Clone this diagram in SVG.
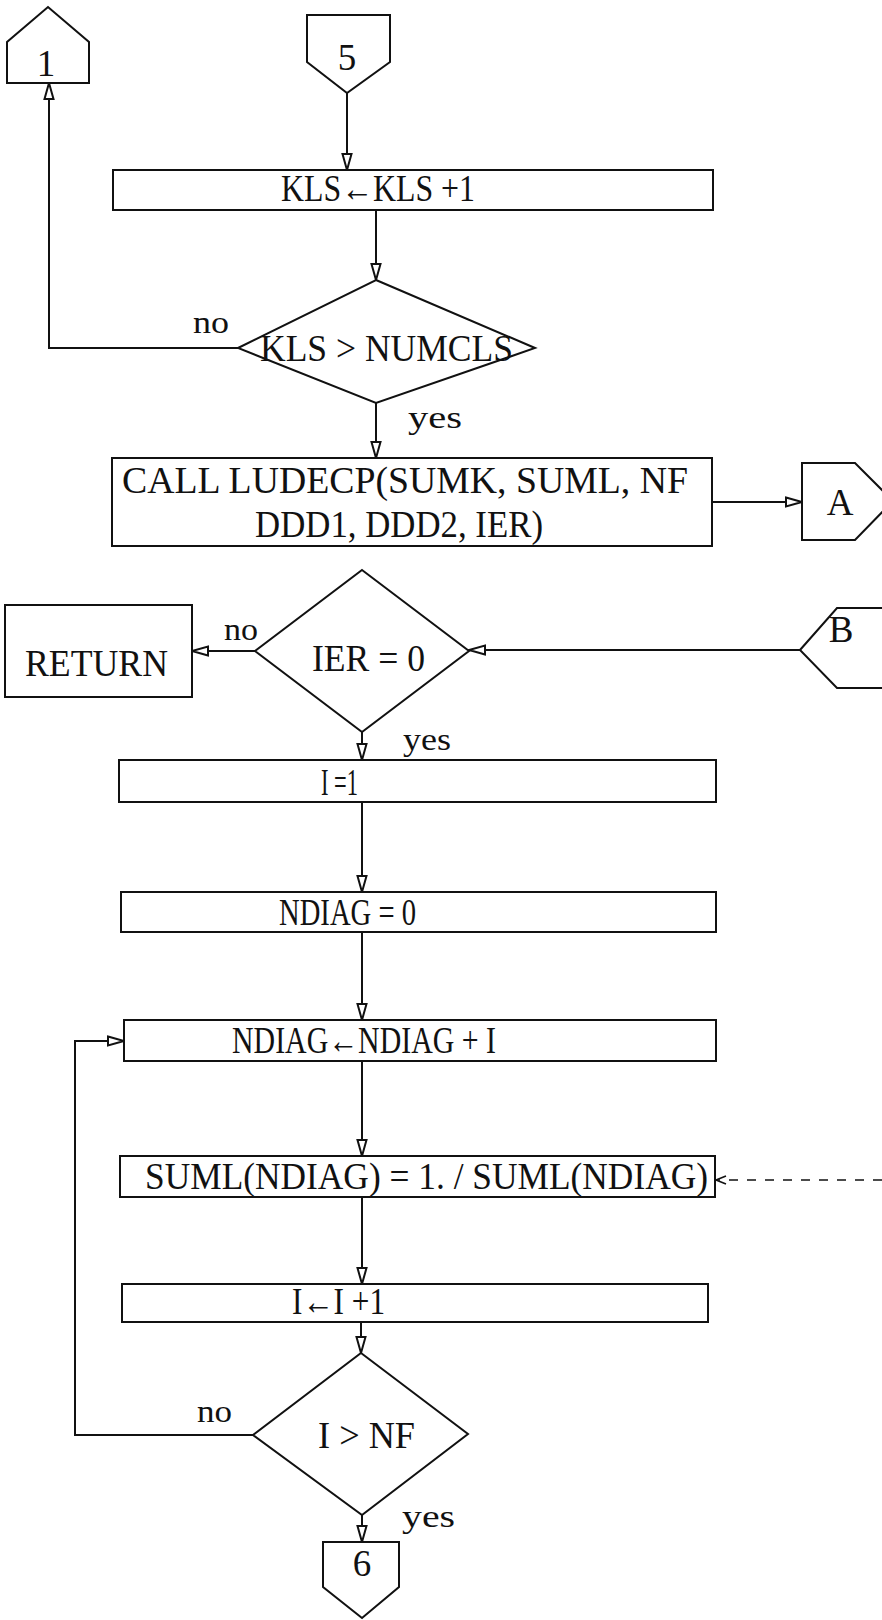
<svg xmlns="http://www.w3.org/2000/svg" width="882" height="1620" viewBox="0 0 882 1620">
<style>
.shape{fill:#fff;stroke:#111;stroke-width:2}
.line{fill:none;stroke:#111;stroke-width:2}
.dash{fill:none;stroke:#111;stroke-width:1.6;stroke-dasharray:9 9}
text{font-family:"Liberation Serif","Times New Roman",serif;font-size:37px;fill:#111}
.lbl{font-size:32px}
.mid{text-anchor:middle}
</style>
<defs>
<marker id="ah" markerUnits="userSpaceOnUse" markerWidth="18" markerHeight="12" viewBox="0 0 18 12" refX="17" refY="6" orient="auto">
<path d="M1,1.5 L17,6 L1,10.5 z" fill="#fff" stroke="#111" stroke-width="2"/>
</marker>
<marker id="ahs" markerUnits="userSpaceOnUse" markerWidth="12" markerHeight="10" viewBox="0 0 12 10" refX="11" refY="5" orient="auto">
<path d="M11,5 L1,1 M11,5 L1,9" fill="none" stroke="#111" stroke-width="1.6"/>
</marker>
</defs>
<g id="connectors">
<path class="line" d="M347,93 L347,170" marker-end="url(#ah)"/>
<path class="line" d="M376,210 L376,280" marker-end="url(#ah)"/>
<path class="line" d="M238,348 L49,348 L49,83" marker-end="url(#ah)"/>
<path class="line" d="M376,403 L376,458" marker-end="url(#ah)"/>
<path class="line" d="M712,502 L802,502" marker-end="url(#ah)"/>
<path class="line" d="M800,650 L469,650" marker-end="url(#ah)"/>
<path class="line" d="M255,651 L192,651" marker-end="url(#ah)"/>
<path class="line" d="M362,732 L362,760" marker-end="url(#ah)"/>
<path class="line" d="M362,802 L362,892" marker-end="url(#ah)"/>
<path class="line" d="M362,932 L362,1020" marker-end="url(#ah)"/>
<path class="line" d="M362,1061 L362,1156" marker-end="url(#ah)"/>
<path class="line" d="M362,1197 L362,1284" marker-end="url(#ah)"/>
<path class="line" d="M361,1322 L361,1353" marker-end="url(#ah)"/>
<path class="line" d="M253,1435 L75,1435 L75,1041 L124,1041" marker-end="url(#ah)"/>
<path class="line" d="M362,1515 L362,1542" marker-end="url(#ah)"/>
<path class="dash" d="M882,1180 L716,1180" marker-end="url(#ahs)"/>
<text class="lbl" x="193" y="333" textLength="36" lengthAdjust="spacingAndGlyphs">no</text>
<text class="lbl" x="408" y="428" textLength="54" lengthAdjust="spacingAndGlyphs">yes</text>
<text class="lbl" x="224" y="640" textLength="34" lengthAdjust="spacingAndGlyphs">no</text>
<text class="lbl" x="403" y="750" textLength="48" lengthAdjust="spacingAndGlyphs">yes</text>
<text class="lbl" x="197" y="1422" textLength="35" lengthAdjust="spacingAndGlyphs">no</text>
<text class="lbl" x="402" y="1527" textLength="53" lengthAdjust="spacingAndGlyphs">yes</text>
</g>
<g id="conn1">
<path class="shape" d="M7,83 L7,42 L48,7 L89,42 L89,83 Z"/>
<text x="46" y="76" class="mid">1</text>
</g>
<g id="conn5">
<path class="shape" d="M307,15 L390,15 L390,62 L347,93 L307,62 Z"/>
<text x="347" y="70" class="mid">5</text>
</g>
<g id="klsinc">
<rect class="shape" x="113" y="170" width="600" height="40"/>
<text x="281" y="201" textLength="194" lengthAdjust="spacingAndGlyphs">KLS←KLS +1</text>
</g>
<g id="dec1">
<path class="shape" d="M376,280 L535,348 L376,403 L238,348 Z"/>
<text x="260" y="361" textLength="253" lengthAdjust="spacingAndGlyphs">KLS &gt; NUMCLS</text>
</g>
<g id="call">
<rect class="shape" x="112" y="458" width="600" height="88"/>
<text x="122" y="493" textLength="566" lengthAdjust="spacingAndGlyphs">CALL LUDECP(SUMK, SUML, NF</text>
<text x="255" y="537" textLength="288" lengthAdjust="spacingAndGlyphs">DDD1, DDD2, IER)</text>
</g>
<g id="connA">
<path class="shape" d="M802,463 L855,463 L893,501 L855,540 L802,540 Z"/>
<text x="840" y="515" class="mid">A</text>
</g>
<g id="ret">
<rect class="shape" x="5" y="605" width="187" height="92"/>
<text x="25" y="676" textLength="143" lengthAdjust="spacingAndGlyphs">RETURN</text>
</g>
<g id="dec2">
<path class="shape" d="M362,570 L469,651 L362,732 L255,651 Z"/>
<text x="312" y="671" textLength="113" lengthAdjust="spacingAndGlyphs">IER = 0</text>
</g>
<g id="connB">
<path class="shape" d="M800,650 L837,608 L900,608 L900,688 L837,688 Z"/>
<text x="841" y="642" class="mid">B</text>
</g>
<g id="iinit">
<rect class="shape" x="119" y="760" width="597" height="42"/>
<text x="321" y="795" textLength="37" lengthAdjust="spacingAndGlyphs">I =1</text>
</g>
<g id="ndiag0">
<rect class="shape" x="121" y="892" width="595" height="40"/>
<text x="279" y="925" textLength="137" lengthAdjust="spacingAndGlyphs">NDIAG = 0</text>
</g>
<g id="ndiaginc">
<rect class="shape" x="124" y="1020" width="592" height="41"/>
<text x="232" y="1053" textLength="264" lengthAdjust="spacingAndGlyphs">NDIAG←NDIAG + I</text>
</g>
<g id="suml">
<rect class="shape" x="120" y="1156" width="595" height="41"/>
<text x="145" y="1189" textLength="563" lengthAdjust="spacingAndGlyphs">SUML(NDIAG) = 1. / SUML(NDIAG)</text>
</g>
<g id="iinc">
<rect class="shape" x="122" y="1284" width="586" height="38"/>
<text x="292" y="1314" textLength="93" lengthAdjust="spacingAndGlyphs">I←I +1</text>
</g>
<g id="dec3">
<path class="shape" d="M361,1353 L468,1434 L362,1515 L253,1435 Z"/>
<text x="318" y="1448" textLength="97" lengthAdjust="spacingAndGlyphs">I &gt; NF</text>
</g>
<g id="conn6">
<path class="shape" d="M323,1542 L399,1542 L399,1587 L362,1618 L323,1587 Z"/>
<text x="362" y="1576" class="mid">6</text>
</g>
</svg>
